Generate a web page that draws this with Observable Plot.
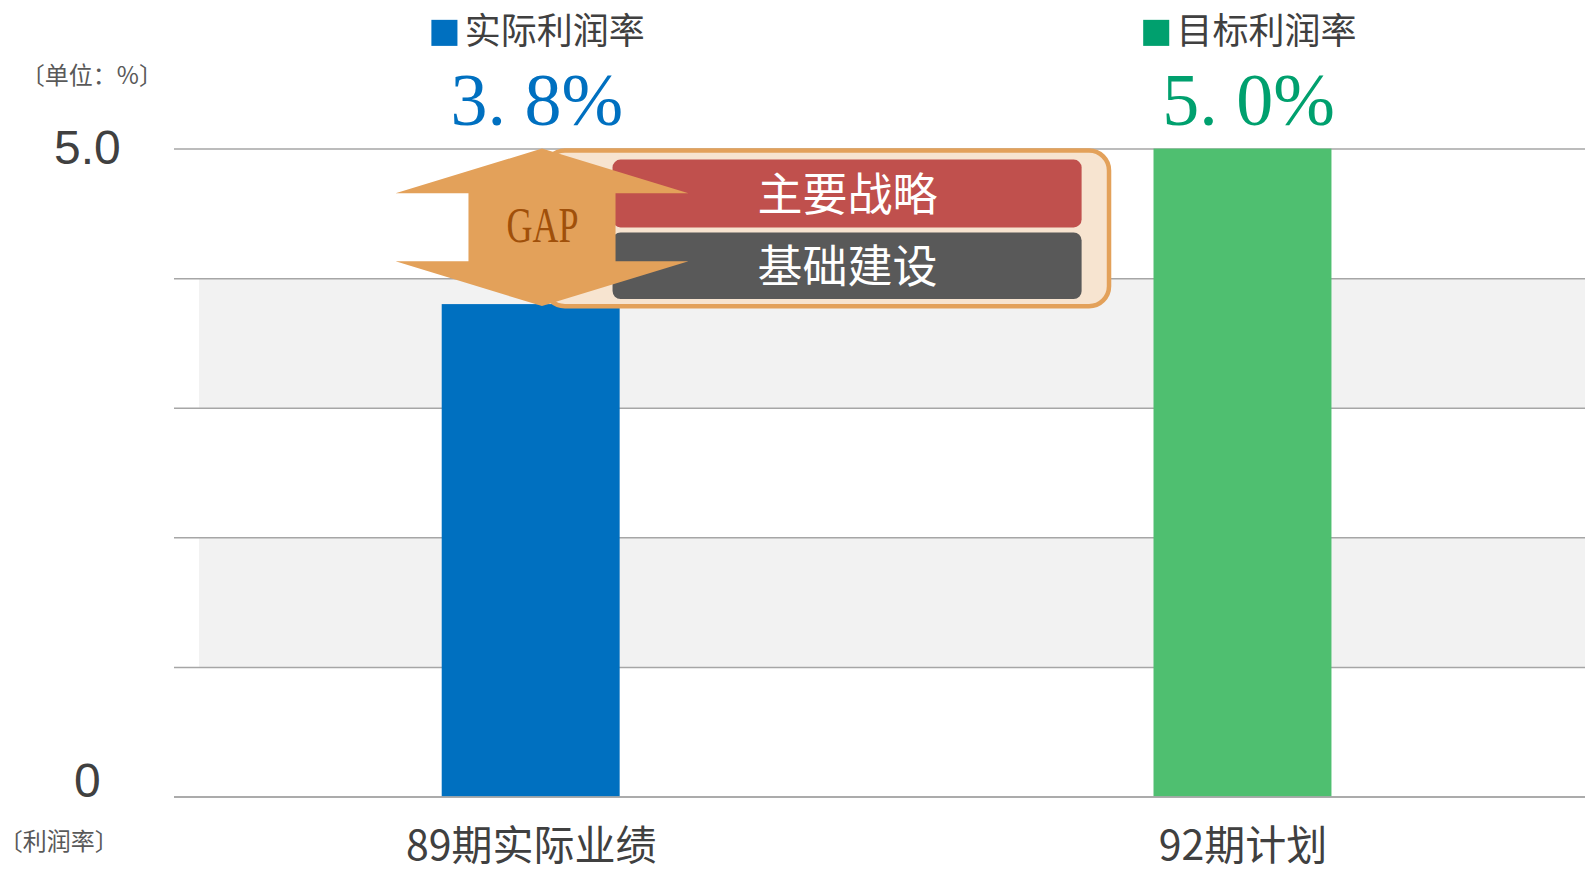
<!DOCTYPE html>
<html><head><meta charset="utf-8">
<script src="https://cdn.jsdelivr.net/npm/d3@7"></script>
<script src="https://cdn.jsdelivr.net/npm/@observablehq/plot@0.6"></script>
<style>
html,body{margin:0;padding:0;background:#fff;overflow:hidden;}
</style></head><body><div id="chart"></div>
<script>
// ---- data ----
const categories = ["89期实际业绩", "92期计划"];
const seriesNames = ["实际利润率", "目标利润率"];
const values = [3.8, 5.0];
const yTicks = [0, 5];
const yTickLabels = ["0", "5.0"];
const gridTicks = [0, 1, 2, 3, 4, 5];
const strategies = ["主要战略", "基础建设"];
const gapLabel = "GAP";
const unitNote = "〔单位：%〕";
const axisNote = "〔利润率〕";

// ---- styles ----
const barColors = ["#0070C0", "#4FBF70"];
const accentColors = ["#0070C0", "#00A06E"];
const strategyColors = ["#C0504D", "#595959"];
const CJK = "'Noto Sans CJK SC', sans-serif";
const SERIF = "'Liberation Serif', 'DejaVu Serif', serif";
const SANS = "'Liberation Sans', Arial, sans-serif";

// layout (data units)
const barHalf = 0.125;
const xDomain = [-0.5011, 1.4812];
const bandX1 = -0.466;
const valueLabelY = 5.367;
const legendY = 5.897;
const catLabelY = -0.385;
const tickLabelX = -0.6234;

const bars = categories.map((c, i) => ({c, i, v: values[i], color: barColors[i], accent: accentColors[i], name: seriesNames[i]}));
const bands = gridTicks.slice(0, -1).filter(t => t % 2 === 1).map(t => ({y1: t, y2: t + 1}));
const actual = values[0], target = values[1];

// GAP arrow geometry
const ac = 0.0159, headW = 0.2058, shaftW = 0.1033, headH = 0.345;
const arrow = [
  {y: target, x1: ac, x2: ac},
  {y: target - headH, x1: ac - headW, x2: ac + headW},
  {y: target - headH, x1: ac - shaftW, x2: ac + shaftW},
  {y: actual - 0.015 + headH, x1: ac - shaftW, x2: ac + shaftW},
  {y: actual - 0.015 + headH, x1: ac - headW, x2: ac + headW},
  {y: actual - 0.015, x1: ac, x2: ac}
];
const strat = strategies.map((s, i) => ({s, i, top: 4.915 - i * 0.562, bottom: 4.392 - i * 0.553, color: strategyColors[i]}));

const fmtVal = v => v.toFixed(1).replace(".", ". ") + "%";

const plot = Plot.plot({
  width: 1585,
  height: 870,
  marginTop: 148.6,
  marginBottom: 73.5,
  marginLeft: 174,
  marginRight: 0,
  x: {domain: xDomain, axis: null},
  y: {domain: [0, 5], axis: null},
  color: {type: "identity"},
  style: {background: "#fff", overflow: "visible"},
  marks: [
    Plot.rect(bands, {x1: bandX1, x2: xDomain[1], y1: "y1", y2: "y2", fill: "#F2F2F2"}),
    Plot.ruleY(gridTicks, {stroke: "#A6A6A6", strokeWidth: 1.5}),
    Plot.rect(bars, {x1: d => d.i - barHalf, x2: d => d.i + barHalf, y1: 0, y2: "v", fill: "color"}),
    Plot.ruleY([0], {stroke: "#A6A6A6", strokeWidth: 1.5}),
    // strategy box
    Plot.rect([{x1: 0.02, x2: 0.8125, y1: 3.783, y2: 4.985}], {x1: "x1", x2: "x2", y1: "y1", y2: "y2", fill: "#F7E4D0", stroke: "#E3A15A", strokeWidth: 4.5, rx: 20}),
    Plot.rect(strat, {x1: 0.115, x2: 0.774, y1: "bottom", y2: "top", fill: "color", rx: 8}),
    Plot.text(strat, {x: 0.4444, y: d => (d.top + d.bottom) / 2 - 0.02, text: "s", fill: "white", fontSize: 45, fontFamily: CJK}),
    // GAP arrow
    Plot.areaX(arrow, {y: "y", x1: "x1", x2: "x2", fill: "#E3A15A", curve: "linear"}),
    Plot.text([gapLabel], {x: ac, y: (actual + target) / 2 + 0.003, text: d => d, fill: "#A0500A", fontSize: 50, fontFamily: SERIF}),
    // value labels
    Plot.text(bars, {x: d => d.i + 0.008, y: valueLabelY, text: d => fmtVal(d.v), fill: "accent", fontSize: 74, fontFamily: SERIF}),
    // legend
    Plot.dot(bars, {x: d => d.i - 0.1219, y: legendY, symbol: "square", r: 14.7, fill: "accent", stroke: null}),
    Plot.text(bars, {x: d => d.i - 0.0935, y: legendY, text: "name", textAnchor: "start", fill: "#404040", fontSize: 36, fontFamily: CJK}),
    // category labels
    Plot.text(bars, {x: "i", y: catLabelY, text: "c", fill: "#404040", fontSize: 41, fontFamily: CJK}),
    // y tick labels
    Plot.text(yTicks, {x: tickLabelX, y: d => d === 0 ? 0.12 : d, text: (d, i) => yTickLabels[i], fill: "#404040", fontSize: 48, fontFamily: SANS}),
    // notes
    Plot.text([unitNote], {x: -0.717, y: 5.56, text: d => d, textAnchor: "start", fill: "#595959", fontSize: 24, fontFamily: CJK}),
    Plot.text([axisNote], {x: -0.748, y: -0.35, text: d => d, textAnchor: "start", fill: "#595959", fontSize: 24, fontFamily: CJK})
  ]
});
document.getElementById("chart").appendChild(plot);
// condense GAP label like the reference's narrow serif
d3.select(plot).selectAll("text").filter(function() { return this.textContent === gapLabel; })
  .attr("textLength", 72).attr("lengthAdjust", "spacingAndGlyphs");
</script></body></html>
